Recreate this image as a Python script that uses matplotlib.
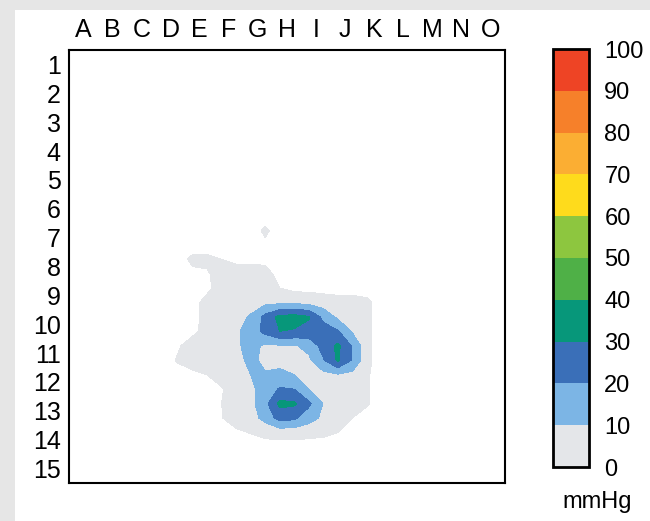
import numpy as np
import matplotlib
matplotlib.use("Agg")
import matplotlib.pyplot as plt
from matplotlib.colors import ListedColormap, BoundaryNorm
from matplotlib.patches import Rectangle
import matplotlib.colorbar as mcolorbar

# ---------------- data ----------------
col_labels = list("ABCDEFGHIJKLMNO")
row_labels = [str(i) for i in range(1, 16)]
levels = [0, 10, 20, 30, 40, 50, 60, 70, 80, 90, 100]
level_colors = ["#e4e6e9", "#7cb5e5", "#3a6fb8", "#07977a", "#4fb047",
                "#8dc63f", "#fedb1c", "#fbae33", "#f6802a", "#ee4425"]
unit_label = "mmHg"
min_visible = 2.0  # values below this are treated as no contact

# pressure (mmHg) sampled at half-sensor resolution (30 x 30), rows from top
grid_n = 30
block_row0 = 12
block_col0 = 6
pressure_block = [
    [0, 0, 0, 0, 0, 0, 0, 2.8, 0, 0, 0, 0, 0, 0, 0, 0],
    [0, 0, 0, 0, 0, 0, 0, 1.2, 0, 0, 0, 0, 0, 0, 0, 0],
    [0, 0, 3, 3, 2, 0.5, 0.5, 0.5, 0, 0, 0, 0, 0, 0, 0, 0],
    [0, 0, 1, 1.5, 4, 5, 5, 4, 0, 0, 0, 0, 0, 0, 0, 0],
    [0, 0, 0, 1, 4, 5, 6, 6, 2, 0, 0, 0, 0, 0, 0, 0],
    [0, 0, 0.5, 3.5, 5, 6, 6, 7.5, 8, 8, 7, 5, 4, 4, 3, 0],
    [0, 0, 0.5, 3.5, 5, 7, 11, 23, 33, 34, 31, 17, 8, 4, 3, 0],
    [0, 0, 1, 3.5, 5, 8.5, 14, 23, 30, 29, 26, 25, 21, 9, 3, 0],
    [0, 1.5, 4, 5, 5, 8, 14, 8, 9, 9, 13, 24, 32, 19, 3, 0],
    [0, 2.5, 4, 5, 5, 6, 13, 7, 6, 6, 8, 19, 31.5, 19, 3, 0],
    [0, 0, 1, 2, 4.5, 5, 10, 11, 13, 10, 6, 7, 9, 7, 2.5, 0],
    [0, 0, 0, 0, 1.5, 5, 8, 14, 21, 20, 10, 5, 5, 4, 2.5, 0],
    [0, 0, 0, 0, 2, 5, 7, 17, 32.5, 31.5, 22, 9.5, 5, 4, 2.5, 0],
    [0, 0, 0, 0, 1.8, 4, 6, 13, 24, 22, 14, 8, 5, 2, 0, 0],
    [0, 0, 0, 0, 0, 1.2, 2.2, 3.5, 4, 4, 3.5, 3, 2, 0.5, 0, 0],
]

pressure = np.zeros((grid_n, grid_n))
blk = np.array(pressure_block, dtype=float)
pressure[block_row0:block_row0 + blk.shape[0], block_col0:block_col0 + blk.shape[1]] = blk

# ---------------- figure ----------------
W, H = 650, 521
fig = plt.figure(figsize=(W / 100, H / 100), dpi=100)
fig.patch.set_facecolor("#e6e6e6")
fig.patches.append(Rectangle((15 / W, 0), 1 - 15 / W, 1 - 10 / H,
                             transform=fig.transFigure, facecolor="white",
                             edgecolor="none", zorder=-10))

font = ["Liberation Sans", "DejaVu Sans"]

ax = fig.add_axes([69 / W, (H - 483) / H, 436 / W, 433 / H])
ax.set_facecolor("white")

centers = (np.arange(grid_n) + 0.5) * (15 / grid_n)
X, Y = np.meshgrid(centers, centers)
draw_levels = [min_visible] + levels[1:]
ax.contourf(X, Y, pressure, levels=draw_levels, colors=level_colors)

ax.set_xlim(0, 15)
ax.set_ylim(15, 0)
ax.xaxis.tick_top()
ax.set_xticks(np.arange(15) + 0.5)
ax.set_xticklabels(col_labels, fontfamily=font, fontsize=18)
ax.set_yticks(np.arange(15) + 0.5)
ax.set_yticklabels(row_labels, fontfamily=font, fontsize=18)
ax.tick_params(axis="x", length=0, pad=6)
ax.tick_params(axis="y", length=0, pad=6)
for s in ax.spines.values():
    s.set_linewidth(1.5)
    s.set_color("black")

# ---------------- colorbar ----------------
cmap = ListedColormap(level_colors)
norm = BoundaryNorm(levels, cmap.N)
cax = fig.add_axes([553 / W, (H - 467) / H, 36 / W, 418 / H])
cb = mcolorbar.ColorbarBase(cax, cmap=cmap, norm=norm, boundaries=levels,
                            ticks=levels, orientation="vertical")
cb.outline.set_linewidth(2)
cax.tick_params(length=0, pad=11)
cax.set_yticklabels([str(v) for v in levels], fontfamily=font, fontsize=17)
fig.text(597 / W, (H - 502) / H, unit_label, ha="center", va="center",
         fontfamily=font, fontsize=17)

fig.savefig("out.png", dpi=100, facecolor=fig.get_facecolor())
